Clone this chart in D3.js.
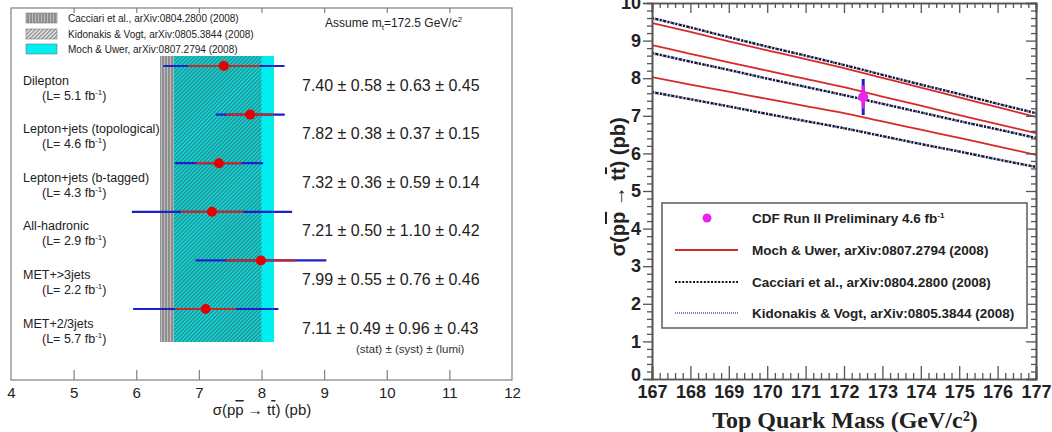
<!DOCTYPE html>
<html><head><meta charset="utf-8">
<script src="https://cdn.jsdelivr.net/npm/d3@7"></script>
<style>
body{margin:0;background:#fff}
svg{display:block}
text{font-family:"Liberation Sans",Arial,Helvetica,sans-serif}
text.serif{font-family:"Liberation Serif","Times New Roman",serif}
</style>
</head><body>
<svg id="chart" width="1052" height="432"></svg>
<script>
// ---------- Left panel: CDF channel measurements ----------
const channels = ["Dilepton", "Lepton+jets (topological)", "Lepton+jets (b-tagged)", "All-hadronic", "MET+>3jets", "MET+2/3jets"];
const lumis = ["5.1", "4.6", "4.3", "2.9", "2.2", "5.7"];
const xsec = [7.40, 7.82, 7.32, 7.21, 7.99, 7.11];
const statErr = [0.58, 0.38, 0.36, 0.50, 0.55, 0.49];
const systErr = [0.63, 0.37, 0.59, 1.10, 0.76, 0.96];
const lumiErr = [0.45, 0.15, 0.14, 0.42, 0.46, 0.43];
const xsecTicks = [4, 5, 6, 7, 8, 9, 10, 11, 12];

// Theory bands at mt = 172.5 GeV/c^2
const bandNames = ["Cacciari et al., arXiv:0804.2800 (2008)", "Kidonakis & Vogt, arXiv:0805.3844 (2008)", "Moch & Uwer, arXiv:0807.2794 (2008)"];
const cacciariBand = [6.38, 8.00];
const kidonakisBand = [6.60, 8.00];
const mochUwerBand = [6.60, 8.20];

// ---------- Right panel: cross section vs top mass ----------
const masses = [167, 168, 169, 170, 171, 172, 173, 174, 175, 176, 177];
const mochUwerUpper   = [9.47, 9.23, 8.98, 8.74, 8.51, 8.27, 8.01, 7.75, 7.49, 7.23, 6.97];
const mochUwerCentral = [8.88, 8.65, 8.42, 8.20, 7.98, 7.76, 7.51, 7.27, 7.02, 6.78, 6.54];
const mochUwerLower   = [8.03, 7.83, 7.64, 7.45, 7.26, 7.07, 6.85, 6.63, 6.41, 6.19, 5.96];
const cacciariUpper   = [9.60, 9.35, 9.09, 8.84, 8.60, 8.35, 8.09, 7.83, 7.58, 7.32, 7.07];
const cacciariCentral = [8.67, 8.44, 8.22, 7.99, 7.77, 7.55, 7.32, 7.09, 6.86, 6.64, 6.41];
const cacciariLower   = [7.63, 7.44, 7.25, 7.05, 6.86, 6.67, 6.46, 6.25, 6.05, 5.84, 5.64];
const kidonakisUpper   = [9.60, 9.35, 9.09, 8.84, 8.60, 8.35, 8.09, 7.83, 7.58, 7.32, 7.07];
const kidonakisCentral = [8.67, 8.44, 8.22, 7.99, 7.77, 7.55, 7.32, 7.09, 6.86, 6.64, 6.41];
const kidonakisLower   = [7.63, 7.44, 7.25, 7.05, 6.86, 6.67, 6.46, 6.25, 6.05, 5.84, 5.64];
const cdfMass = 172.5, cdfXsec = 7.50, cdfStat = 0.31, cdfTotal = 0.48;
const massTicks = [167, 168, 169, 170, 171, 172, 173, 174, 175, 176, 177];
const sigmaTicks = [0, 1, 2, 3, 4, 5, 6, 7, 8, 9, 10];
const curveLegend = ["CDF Run II Preliminary 4.6 fb", "Moch & Uwer, arXiv:0807.2794 (2008)", "Cacciari et al., arXiv:0804.2800 (2008)", "Kidonakis & Vogt, arXiv:0805.3844 (2008)"];

const svg = d3.select("#chart");
const defs = svg.append("defs");

// hatch patterns
const vh = defs.append("pattern").attr("id", "vhatch").attr("patternUnits", "userSpaceOnUse")
  .attr("width", 3).attr("height", 3);
vh.append("rect").attr("width", 3).attr("height", 3).attr("fill", "#bcbcbc");
vh.append("line").attr("x1", 1).attr("x2", 1).attr("y1", 0).attr("y2", 3).attr("stroke", "#707070").attr("stroke-width", 1.2);

const dh = defs.append("pattern").attr("id", "dhatch").attr("patternUnits", "userSpaceOnUse")
  .attr("width", 2.8).attr("height", 2.8).attr("patternTransform", "rotate(45)");
dh.append("line").attr("x1", 1).attr("x2", 1).attr("y1", 0).attr("y2", 2.8).attr("stroke", "#4c4c4c").attr("stroke-width", 1.0);

// ===== Left panel =====
const xL = d3.scaleLinear().domain([4, 12]).range([11, 512]);
const yL = d3.scalePoint().domain(channels).range([66, 309]);
const bandTop = 56, bandBottom = 342;
const gL = svg.append("g");

gL.append("rect").attr("x", xL(cacciariBand[0])).attr("width", xL(cacciariBand[1]) - xL(cacciariBand[0]))
  .attr("y", bandTop).attr("height", bandBottom - bandTop).attr("fill", "url(#vhatch)");
gL.append("rect").attr("x", xL(mochUwerBand[0])).attr("width", xL(mochUwerBand[1]) - xL(mochUwerBand[0]))
  .attr("y", bandTop).attr("height", bandBottom - bandTop).attr("fill", "#00eef0");
gL.append("rect").attr("x", xL(kidonakisBand[0])).attr("width", xL(kidonakisBand[1]) - xL(kidonakisBand[0]))
  .attr("y", bandTop).attr("height", bandBottom - bandTop).attr("fill", "url(#dhatch)");

// frame
gL.append("rect").attr("x", 11).attr("y", 8).attr("width", 501).attr("height", 372)
  .attr("fill", "none").attr("stroke", "#808080").attr("stroke-width", 1.2);

// bottom axis (ticks pointing up)
const axL = gL.append("g").attr("transform", "translate(0,380)")
  .call(d3.axisBottom(xL).tickValues(xsecTicks).tickSize(-10).tickPadding(7).tickFormat(d3.format("d")));
axL.select(".domain").remove();
axL.selectAll("line").attr("stroke", "#808080").attr("stroke-width", 1.2);
axL.selectAll("text").attr("font-size", 15).attr("fill", "#222");
axL.selectAll(".tick").filter(d => d === 4 || d === 12).select("line").remove();
// top axis (ticks pointing down)
const axLt = gL.append("g").attr("transform", "translate(0,8)")
  .call(d3.axisTop(xL).tickValues(xsecTicks.slice(1, -1)).tickSize(-5).tickFormat(""));
axLt.select(".domain").remove();
axLt.selectAll("line").attr("stroke", "#808080").attr("stroke-width", 1.2);

// x title
const xtL = gL.append("text").attr("x", 262).attr("y", 415).attr("text-anchor", "middle")
  .attr("font-size", 15).attr("fill", "#222");
xtL.append("tspan").text("σ(p");
xtL.append("tspan").style("text-decoration", "overline").text("p");
xtL.append("tspan").text(" → t");
xtL.append("tspan").style("text-decoration", "overline").text("t");
xtL.append("tspan").text(") (pb)");

// measurements: blue = total uncertainty, red = statistical
channels.forEach((c, i) => {
  const y = yL(c);
  const tot = Math.sqrt(statErr[i] ** 2 + systErr[i] ** 2 + lumiErr[i] ** 2);
  gL.append("line").attr("x1", xL(xsec[i] - tot)).attr("x2", xL(xsec[i] + tot)).attr("y1", y).attr("y2", y)
    .attr("stroke", "#1a22c8").attr("stroke-width", 2.2);
  gL.append("line").attr("x1", xL(xsec[i] - statErr[i])).attr("x2", xL(xsec[i] + statErr[i])).attr("y1", y).attr("y2", y)
    .attr("stroke", "#c42a2a").attr("stroke-width", 2.2);
  gL.append("circle").attr("cx", xL(xsec[i])).attr("cy", y).attr("r", 5).attr("fill", "#e80000");

  gL.append("text").attr("x", 23).attr("y", y + 18.5).attr("font-size", 12.5).attr("fill", "#222").text(c);
  const l2 = gL.append("text").attr("x", 42).attr("y", y + 33.5).attr("font-size", 12.5).attr("fill", "#222");
  l2.append("tspan").text(`(L= ${lumis[i]} fb`);
  l2.append("tspan").attr("dy", -5).attr("font-size", 8).text("-1");
  l2.append("tspan").attr("dy", 5).text(")");

  const f = d3.format(".2f");
  gL.append("text").attr("x", 302).attr("y", y + 24.5).attr("font-size", 16).attr("fill", "#222")
    .text(`${f(xsec[i])} ± ${f(statErr[i])} ± ${f(systErr[i])} ± ${f(lumiErr[i])}`);
});
gL.append("text").attr("x", 356).attr("y", 353).attr("font-size", 11.5).attr("fill", "#333")
  .text("(stat) ± (syst) ± (lumi)");

// assumed top mass
const am = gL.append("text").attr("x", 325).attr("y", 27).attr("font-size", 12).attr("fill", "#222");
am.append("tspan").text("Assume m");
am.append("tspan").attr("dy", 3).attr("font-size", 8).text("t");
am.append("tspan").attr("dy", -3).text("=172.5 GeV/c");
am.append("tspan").attr("dy", -5).attr("font-size", 8).text("2");

// band legend
const legFills = ["url(#vhatch)", "url(#dhatch)", "#00eef0"];
bandNames.forEach((n, i) => {
  const cy = [18, 34, 49][i];
  gL.append("rect").attr("x", 26).attr("y", cy - 5).attr("width", 31).attr("height", 10)
    .attr("fill", legFills[i]).attr("stroke", "#777").attr("stroke-width", 0.6);
  gL.append("text").attr("x", 68).attr("y", cy + 3.5).attr("font-size", 10).attr("fill", "#222").text(n);
});

// ===== Right panel =====
const xR = d3.scaleLinear().domain([167, 177]).range([652, 1036]);
const yR = d3.scaleLinear().domain([0, 10]).range([379, 3]);
const gR = svg.append("g");

defs.append("clipPath").attr("id", "plotclip").append("rect")
  .attr("x", 652).attr("y", 3).attr("width", 384).attr("height", 376);

const line = d3.line().x((d, i) => xR(masses[i])).y(d => yR(d)).curve(d3.curveMonotoneX);
const curves = gR.append("g").attr("clip-path", "url(#plotclip)");
[kidonakisUpper, kidonakisCentral, kidonakisLower].forEach(s => {
  curves.append("path").attr("d", line(s)).attr("fill", "none").attr("stroke", "#4a58a8")
    .attr("stroke-width", 2.6).attr("stroke-dasharray", "1.5,1.2");
});
[cacciariUpper, cacciariCentral, cacciariLower].forEach(s => {
  curves.append("path").attr("d", line(s)).attr("fill", "none").attr("stroke", "#111")
    .attr("stroke-width", 2.2).attr("stroke-dasharray", "2,2");
});
[mochUwerUpper, mochUwerCentral, mochUwerLower].forEach(s => {
  curves.append("path").attr("d", line(s)).attr("fill", "none").attr("stroke", "#d42a2a").attr("stroke-width", 1.8);
});

// CDF measurement: blue = total, magenta = statistical
gR.append("line").attr("x1", xR(cdfMass)).attr("x2", xR(cdfMass)).attr("y1", yR(cdfXsec - cdfTotal)).attr("y2", yR(cdfXsec + cdfTotal))
  .attr("stroke", "#2020c0").attr("stroke-width", 3);
gR.append("line").attr("x1", xR(cdfMass)).attr("x2", xR(cdfMass)).attr("y1", yR(cdfXsec - cdfStat)).attr("y2", yR(cdfXsec + cdfStat))
  .attr("stroke", "#e020e0").attr("stroke-width", 3);
gR.append("circle").attr("cx", xR(cdfMass)).attr("cy", yR(cdfXsec)).attr("r", 5).attr("fill", "#ee22ee");

// axes
const minorMass = d3.range(167, 177.001, 0.2).filter(v => Math.abs(v - Math.round(v)) > 1e-6);
const minorSigma = d3.range(0, 10.001, 0.2).filter(v => Math.abs(v - Math.round(v)) > 1e-6);
function styleAxis(g) {
  g.select(".domain").attr("stroke", "#555").attr("stroke-width", 1.6);
  g.selectAll("line").attr("stroke", "#555").attr("stroke-width", 1.3);
  g.selectAll("text").attr("font-size", 18).attr("font-weight", "bold").attr("fill", "#222");
}
const axB = gR.append("g").attr("transform", "translate(0,379)")
  .call(d3.axisBottom(xR).tickValues(massTicks).tickSize(-13).tickPadding(6).tickFormat(d3.format("d")));
styleAxis(axB);
gR.append("g").attr("transform", "translate(0,379)")
  .call(d3.axisBottom(xR).tickValues(minorMass).tickSize(-6).tickFormat("")).call(styleAxis);
gR.append("g").attr("transform", "translate(0,3)")
  .call(d3.axisTop(xR).tickValues(massTicks).tickSize(-10).tickFormat("")).call(styleAxis);
gR.append("g").attr("transform", "translate(0,3)")
  .call(d3.axisTop(xR).tickValues(minorMass).tickSize(-5).tickFormat("")).call(styleAxis);

const axLeft = gR.append("g").attr("transform", "translate(652,0)")
  .call(d3.axisLeft(yR).tickValues(sigmaTicks).tickSize(9).tickPadding(2).tickFormat(d3.format("d")));
styleAxis(axLeft);
axLeft.selectAll(".tick").filter(d => d === 0).select("text").attr("dy", "0.1em");
gR.append("g").attr("transform", "translate(652,0)")
  .call(d3.axisLeft(yR).tickValues(minorSigma).tickSize(5).tickFormat("")).call(styleAxis);
gR.append("g").attr("transform", "translate(1036,0)")
  .call(d3.axisRight(yR).tickValues(sigmaTicks).tickSize(-10).tickFormat("")).call(styleAxis);
gR.append("g").attr("transform", "translate(1036,0)")
  .call(d3.axisRight(yR).tickValues(minorSigma).tickSize(-5).tickFormat("")).call(styleAxis);

// axis titles
gR.append("text").attr("class", "serif").attr("x", 845).attr("y", 428).attr("text-anchor", "middle")
  .attr("font-weight", "bold").attr("font-size", 24).attr("fill", "#222").text("Top Quark Mass (GeV/c²)");
const yt = gR.append("text").attr("transform", "translate(625,187) rotate(-90)").attr("text-anchor", "middle")
  .attr("font-weight", "bold").attr("font-size", 20).attr("fill", "#222");
yt.append("tspan").text("σ(p");
yt.append("tspan").style("text-decoration", "overline").text("p");
yt.append("tspan").text(" → t");
yt.append("tspan").style("text-decoration", "overline").text("t");
yt.append("tspan").text(") (pb)");

// legend
gR.append("rect").attr("x", 662).attr("y", 203).attr("width", 365).attr("height", 125)
  .attr("fill", "#fff").attr("stroke", "#666").attr("stroke-width", 1.6);
const legY = [218, 250, 282, 313];
gR.append("circle").attr("cx", 707).attr("cy", legY[0]).attr("r", 4.5).attr("fill", "#ee22ee");
gR.append("line").attr("x1", 675).attr("x2", 738).attr("y1", legY[1]).attr("y2", legY[1])
  .attr("stroke", "#d42a2a").attr("stroke-width", 1.8);
gR.append("line").attr("x1", 675).attr("x2", 738).attr("y1", legY[2]).attr("y2", legY[2])
  .attr("stroke", "#111").attr("stroke-width", 2.2).attr("stroke-dasharray", "2,1.6");
gR.append("line").attr("x1", 675).attr("x2", 738).attr("y1", legY[3]).attr("y2", legY[3])
  .attr("stroke", "#7888c0").attr("stroke-width", 2).attr("stroke-dasharray", "1,1");
curveLegend.forEach((t, i) => {
  const tx = gR.append("text").attr("x", 752).attr("y", legY[i] + 5).attr("font-size", 13.5)
    .attr("font-weight", "bold").attr("fill", "#222");
  tx.append("tspan").text(t);
  if (i === 0) tx.append("tspan").attr("dy", -5).attr("font-size", 8).text("-1");
});
</script>
</body></html>
